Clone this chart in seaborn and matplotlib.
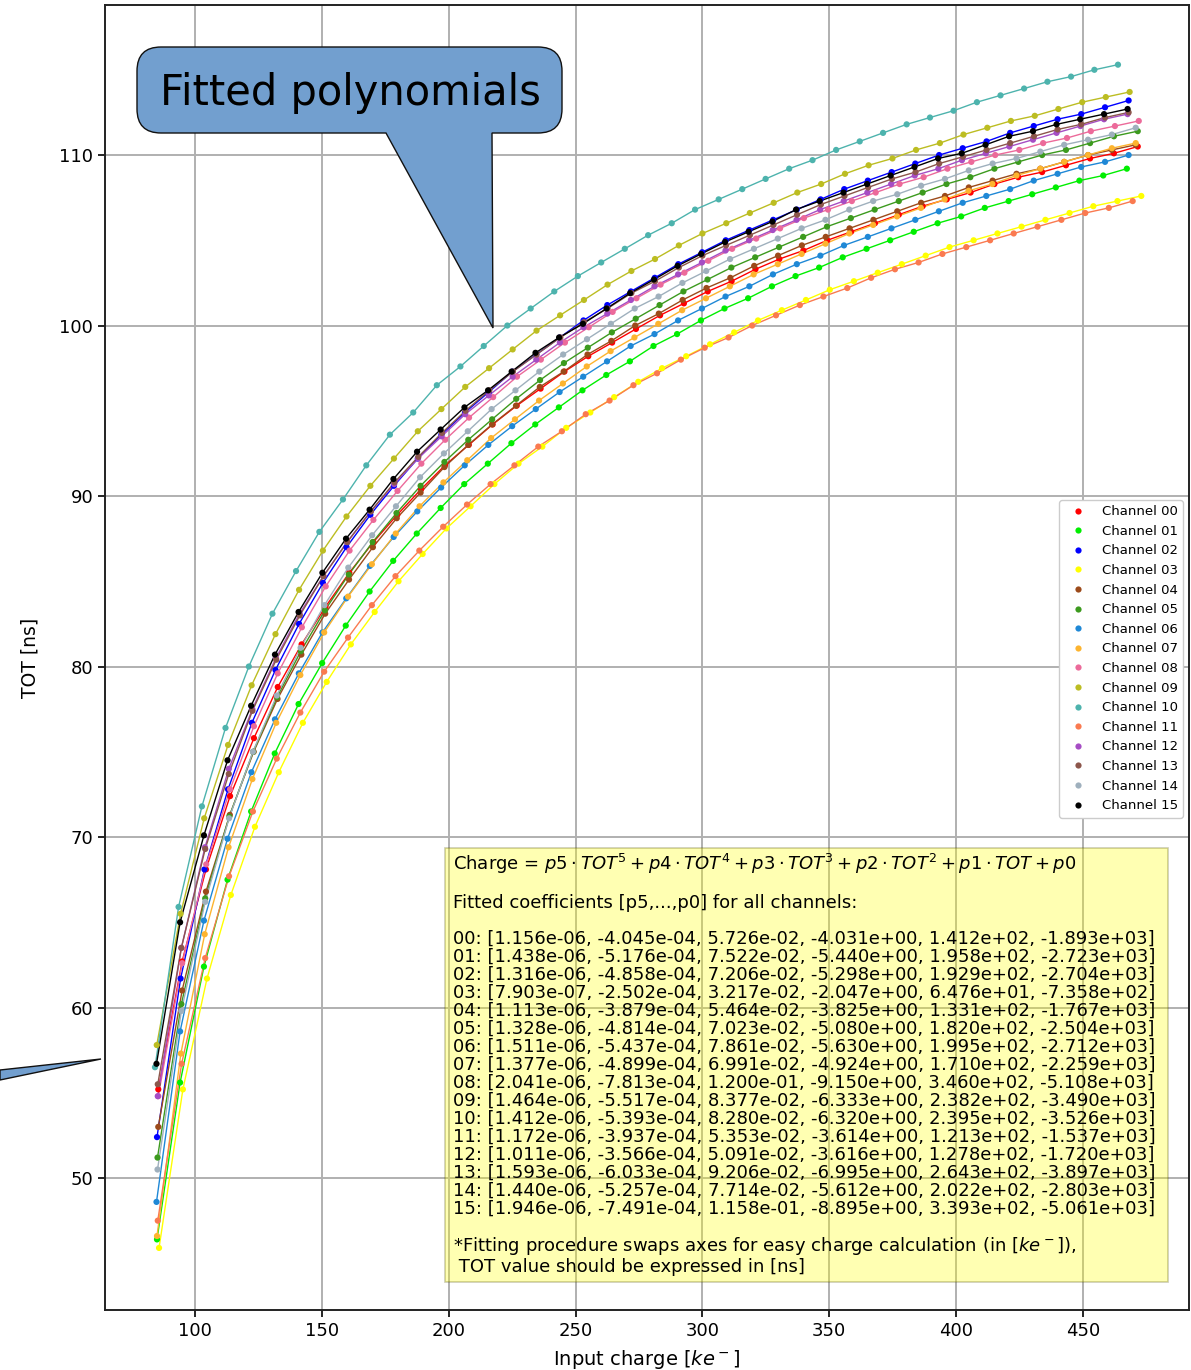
import pandas as pd
import matplotlib
matplotlib.use("Agg")
import matplotlib.pyplot as plt
import seaborn as sns
from matplotlib.path import Path
from matplotlib.patches import PathPatch, Polygon, Rectangle
from matplotlib.transforms import IdentityTransform

# Injected charge [ke-] and measured TOT [ns] per channel
charge_ch00 = [85.5, 94.9, 104.3, 113.8, 123.2, 132.6, 142.0, 151.4, 160.8, 170.3, 179.7, 189.1, 198.5, 207.9, 217.3, 226.8, 236.2, 245.6, 255.0, 264.4, 273.8,
               283.3, 292.7, 302.1, 311.5, 320.9, 330.3, 339.8, 349.2, 358.6, 368.0, 377.4, 386.8, 396.3, 405.7, 415.1, 424.5, 433.9, 443.3, 452.8, 462.2, 471.6]
tot_ch00 = [55.2, 62.7, 68.1, 72.4, 75.8, 78.8, 81.3, 83.5, 85.5, 87.3, 88.9, 90.4, 91.8, 93.0, 94.2, 95.3, 96.3, 97.3, 98.2, 99.0, 99.8,
            100.6, 101.3, 102.0, 102.6, 103.3, 103.9, 104.4, 105.0, 105.5, 106.0, 106.5, 107.0, 107.4, 107.8, 108.3, 108.7, 109.0, 109.4, 109.8, 110.1, 110.5]

charge_ch01 = [85.0, 94.1, 103.5, 112.8, 122.1, 131.4, 140.8, 150.1, 159.4, 168.8, 178.1, 187.4, 196.8, 206.1, 215.4, 224.7, 234.1, 243.4, 252.7, 262.1, 271.4,
               280.7, 290.0, 299.4, 308.7, 318.0, 327.4, 336.7, 346.0, 355.3, 364.7, 374.0, 383.3, 392.7, 402.0, 411.3, 420.7, 430.0, 439.3, 448.6, 458.0, 467.3]
tot_ch01 = [46.4, 55.6, 62.4, 67.5, 71.5, 74.9, 77.8, 80.2, 82.4, 84.4, 86.2, 87.8, 89.3, 90.7, 91.9, 93.1, 94.2, 95.2, 96.2, 97.1, 97.9,
            98.8, 99.5, 100.3, 101.0, 101.6, 102.3, 102.9, 103.4, 104.0, 104.5, 105.0, 105.5, 106.0, 106.4, 106.9, 107.3, 107.7, 108.1, 108.5, 108.8, 109.2]

charge_ch02 = [85.0, 94.3, 103.7, 113.0, 122.4, 131.7, 141.0, 150.4, 159.7, 169.1, 178.4, 187.8, 197.1, 206.4, 215.8, 225.1, 234.5, 243.8, 253.1, 262.5, 271.8,
               281.2, 290.5, 299.9, 309.2, 318.5, 327.9, 337.2, 346.6, 355.9, 365.2, 374.6, 383.9, 393.3, 402.6, 412.0, 421.3, 430.6, 440.0, 449.3, 458.7, 468.0]
tot_ch02 = [52.4, 61.7, 68.1, 72.8, 76.7, 79.8, 82.5, 84.9, 87.0, 88.9, 90.6, 92.2, 93.6, 94.9, 96.1, 97.3, 98.3, 99.3, 100.3, 101.2, 102.0,
            102.8, 103.6, 104.3, 105.0, 105.6, 106.2, 106.8, 107.4, 108.0, 108.5, 109.0, 109.5, 110.0, 110.4, 110.8, 111.3, 111.7, 112.1, 112.4, 112.8, 113.2]

charge_ch03 = [85.8, 95.2, 104.7, 114.1, 123.6, 133.0, 142.5, 151.9, 161.4, 170.8, 180.2, 189.7, 199.1, 208.6, 218.0, 227.5, 236.9, 246.3, 255.8, 265.2, 274.7,
               284.1, 293.6, 303.0, 312.5, 321.9, 331.3, 340.8, 350.2, 359.7, 369.1, 378.6, 388.0, 397.4, 406.9, 416.3, 425.8, 435.2, 444.7, 454.1, 463.6, 473.0]
tot_ch03 = [45.9, 55.2, 61.7, 66.6, 70.6, 73.8, 76.7, 79.1, 81.3, 83.2, 85.0, 86.6, 88.1, 89.4, 90.7, 91.9, 92.9, 94.0, 94.9, 95.8, 96.7,
            97.5, 98.2, 98.9, 99.6, 100.3, 100.9, 101.5, 102.1, 102.6, 103.1, 103.6, 104.1, 104.6, 105.0, 105.4, 105.8, 106.2, 106.6, 107.0, 107.3, 107.6]

charge_ch04 = [85.5, 94.9, 104.3, 113.7, 123.1, 132.5, 141.9, 151.3, 160.7, 170.1, 179.5, 188.9, 198.3, 207.7, 217.1, 226.5, 235.9, 245.3, 254.7, 264.1, 273.5,
               282.8, 292.2, 301.6, 311.0, 320.4, 329.8, 339.2, 348.6, 358.0, 367.4, 376.8, 386.2, 395.6, 405.0, 414.4, 423.8, 433.2, 442.6, 452.0, 461.4, 470.8]
tot_ch04 = [53.0, 61.0, 66.8, 71.3, 75.0, 78.1, 80.7, 83.1, 85.1, 87.0, 88.7, 90.2, 91.7, 93.0, 94.2, 95.3, 96.4, 97.3, 98.3, 99.1, 100.0,
            100.7, 101.5, 102.2, 102.8, 103.5, 104.1, 104.7, 105.2, 105.7, 106.2, 106.7, 107.2, 107.6, 108.1, 108.5, 108.9, 109.2, 109.6, 110.0, 110.3, 110.6]

charge_ch05 = [85.2, 94.6, 104.0, 113.5, 122.9, 132.3, 141.7, 151.2, 160.6, 170.0, 179.4, 188.9, 198.3, 207.7, 217.1, 226.6, 236.0, 245.4, 254.8, 264.3, 273.7,
               283.1, 292.5, 302.0, 311.4, 320.8, 330.2, 339.7, 349.1, 358.5, 367.9, 377.4, 386.8, 396.2, 405.6, 415.1, 424.5, 433.9, 443.3, 452.8, 462.2, 471.6]
tot_ch05 = [51.2, 60.2, 66.4, 71.2, 75.0, 78.2, 80.9, 83.3, 85.4, 87.3, 89.0, 90.6, 92.0, 93.3, 94.5, 95.7, 96.8, 97.8, 98.7, 99.6, 100.4,
            101.2, 102.0, 102.7, 103.4, 104.0, 104.6, 105.2, 105.8, 106.3, 106.8, 107.3, 107.8, 108.3, 108.7, 109.2, 109.6, 110.0, 110.3, 110.7, 111.1, 111.4]

charge_ch06 = [84.8, 94.1, 103.5, 112.8, 122.2, 131.5, 140.9, 150.2, 159.6, 168.9, 178.3, 187.6, 197.0, 206.3, 215.6, 225.0, 234.3, 243.7, 253.0, 262.4, 271.7,
               281.1, 290.4, 299.8, 309.1, 318.5, 327.8, 337.2, 346.5, 355.8, 365.2, 374.5, 383.9, 393.2, 402.6, 411.9, 421.3, 430.6, 440.0, 449.3, 458.7, 468.0]
tot_ch06 = [48.6, 58.6, 65.1, 69.9, 73.8, 76.9, 79.6, 82.0, 84.0, 85.9, 87.6, 89.1, 90.5, 91.8, 93.0, 94.1, 95.1, 96.1, 97.0, 97.9, 98.8,
            99.5, 100.3, 101.0, 101.7, 102.3, 103.0, 103.6, 104.1, 104.7, 105.2, 105.7, 106.2, 106.7, 107.2, 107.6, 108.0, 108.5, 108.9, 109.3, 109.6, 110.0]

charge_ch07 = [85.0, 94.4, 103.8, 113.2, 122.6, 132.0, 141.5, 150.9, 160.3, 169.7, 179.1, 188.5, 197.9, 207.3, 216.7, 226.1, 235.6, 245.0, 254.4, 263.8, 273.2,
               282.6, 292.0, 301.4, 310.8, 320.2, 329.7, 339.1, 348.5, 357.9, 367.3, 376.7, 386.1, 395.5, 404.9, 414.3, 423.8, 433.2, 442.6, 452.0, 461.4, 470.8]
tot_ch07 = [46.6, 57.3, 64.3, 69.4, 73.4, 76.7, 79.5, 82.0, 84.1, 86.0, 87.8, 89.4, 90.8, 92.1, 93.4, 94.5, 95.6, 96.6, 97.6, 98.5, 99.3,
            100.1, 100.9, 101.6, 102.3, 103.0, 103.6, 104.2, 104.8, 105.4, 105.9, 106.4, 106.9, 107.4, 107.9, 108.3, 108.8, 109.2, 109.6, 110.0, 110.4, 110.7]

charge_ch08 = [85.5, 94.9, 104.4, 113.8, 123.2, 132.6, 142.1, 151.5, 160.9, 170.3, 179.8, 189.2, 198.6, 208.0, 217.5, 226.9, 236.3, 245.8, 255.2, 264.6, 274.0,
               283.5, 292.9, 302.3, 311.7, 321.2, 330.6, 340.0, 349.5, 358.9, 368.3, 377.7, 387.2, 396.6, 406.0, 415.4, 424.9, 434.3, 443.7, 453.1, 462.6, 472.0]
tot_ch08 = [54.8, 62.6, 68.4, 72.8, 76.5, 79.6, 82.3, 84.7, 86.8, 88.6, 90.3, 91.9, 93.3, 94.6, 95.8, 97.0, 98.0, 99.0, 99.9, 100.8, 101.6,
            102.4, 103.1, 103.8, 104.5, 105.1, 105.7, 106.3, 106.8, 107.3, 107.8, 108.3, 108.7, 109.2, 109.6, 110.0, 110.3, 110.7, 111.0, 111.4, 111.7, 112.0]

charge_ch09 = [84.9, 94.3, 103.6, 113.0, 122.3, 131.7, 141.0, 150.4, 159.7, 169.1, 178.4, 187.8, 197.1, 206.5, 215.9, 225.2, 234.6, 243.9, 253.3, 262.6, 272.0,
               281.3, 290.7, 300.0, 309.4, 318.7, 328.1, 337.4, 346.8, 356.2, 365.5, 374.9, 384.2, 393.6, 402.9, 412.3, 421.6, 431.0, 440.3, 449.7, 459.0, 468.4]
tot_ch09 = [57.8, 65.5, 71.1, 75.4, 78.9, 81.9, 84.5, 86.8, 88.8, 90.6, 92.2, 93.8, 95.1, 96.4, 97.5, 98.6, 99.7, 100.6, 101.5, 102.4, 103.2,
            103.9, 104.7, 105.4, 106.0, 106.6, 107.2, 107.8, 108.3, 108.9, 109.4, 109.8, 110.3, 110.7, 111.2, 111.6, 112.0, 112.3, 112.7, 113.1, 113.4, 113.7]

charge_ch10 = [84.2, 93.5, 102.7, 112.0, 121.2, 130.5, 139.8, 149.0, 158.3, 167.5, 176.8, 186.0, 195.3, 204.6, 213.8, 223.1, 232.3, 241.6, 250.9, 260.1, 269.4,
               278.6, 287.9, 297.1, 306.4, 315.7, 324.9, 334.2, 343.4, 352.7, 362.0, 371.2, 380.5, 389.7, 399.0, 408.2, 417.5, 426.8, 436.0, 445.3, 454.5, 463.8]
tot_ch10 = [56.5, 65.9, 71.8, 76.4, 80.0, 83.1, 85.6, 87.9, 89.8, 91.8, 93.6, 94.9, 96.5, 97.6, 98.8, 100.0, 101.0, 102.0, 102.9, 103.7, 104.5,
            105.3, 106.0, 106.8, 107.4, 108.0, 108.6, 109.2, 109.7, 110.3, 110.8, 111.3, 111.8, 112.2, 112.6, 113.1, 113.5, 113.9, 114.3, 114.6, 115.0, 115.3]

charge_ch11 = [85.3, 94.7, 104.0, 113.4, 122.8, 132.2, 141.5, 150.9, 160.3, 169.7, 179.0, 188.4, 197.8, 207.2, 216.5, 225.9, 235.3, 244.6, 254.0, 263.4, 272.8,
               282.1, 291.5, 300.9, 310.3, 319.6, 329.0, 338.4, 347.7, 357.1, 366.5, 375.9, 385.2, 394.6, 404.0, 413.4, 422.7, 432.1, 441.5, 450.9, 460.2, 469.6]
tot_ch11 = [47.5, 56.7, 62.9, 67.7, 71.5, 74.6, 77.3, 79.7, 81.7, 83.6, 85.3, 86.8, 88.2, 89.5, 90.7, 91.8, 92.9, 93.8, 94.8, 95.6, 96.5,
            97.2, 98.0, 98.7, 99.3, 100.0, 100.6, 101.2, 101.7, 102.2, 102.8, 103.3, 103.7, 104.2, 104.6, 105.0, 105.4, 105.8, 106.2, 106.6, 106.9, 107.3]

charge_ch12 = [85.3, 94.6, 103.9, 113.3, 122.6, 131.9, 141.2, 150.6, 159.9, 169.2, 178.5, 187.9, 197.2, 206.5, 215.8, 225.2, 234.5, 243.8, 253.1, 262.5, 271.8,
               281.1, 290.4, 299.8, 309.1, 318.4, 327.7, 337.1, 346.4, 355.7, 365.0, 374.4, 383.7, 393.0, 402.3, 411.7, 421.0, 430.3, 439.6, 449.0, 458.3, 467.6]
tot_ch12 = [54.8, 63.5, 69.4, 74.0, 77.5, 80.5, 83.1, 85.3, 87.3, 89.1, 90.7, 92.2, 93.5, 94.8, 95.9, 97.0, 98.0, 99.0, 99.9, 100.7, 101.5,
            102.3, 103.0, 103.7, 104.4, 105.0, 105.6, 106.2, 106.8, 107.3, 107.8, 108.3, 108.8, 109.2, 109.7, 110.1, 110.5, 110.9, 111.3, 111.7, 112.1, 112.4]

charge_ch13 = [85.3, 94.6, 104.0, 113.3, 122.6, 132.0, 141.3, 150.6, 160.0, 169.3, 178.6, 188.0, 197.3, 206.6, 216.0, 225.3, 234.6, 244.0, 253.3, 262.6, 272.0,
               281.3, 290.7, 300.0, 309.3, 318.7, 328.0, 337.3, 346.7, 356.0, 365.3, 374.7, 384.0, 393.3, 402.7, 412.0, 421.3, 430.7, 440.0, 449.3, 458.7, 468.0]
tot_ch13 = [55.5, 63.5, 69.3, 73.7, 77.4, 80.4, 83.0, 85.3, 87.3, 89.1, 90.8, 92.3, 93.7, 95.0, 96.2, 97.3, 98.3, 99.3, 100.2, 101.0, 101.9,
            102.6, 103.4, 104.1, 104.7, 105.3, 105.9, 106.5, 107.1, 107.6, 108.1, 108.6, 109.0, 109.5, 109.9, 110.3, 110.7, 111.1, 111.5, 111.8, 112.2, 112.5]

charge_ch14 = [85.2, 94.6, 104.0, 113.4, 122.8, 132.2, 141.6, 151.0, 160.4, 169.8, 179.2, 188.7, 198.1, 207.5, 216.9, 226.3, 235.7, 245.1, 254.5, 263.9, 273.3,
               282.7, 292.1, 301.5, 310.9, 320.3, 329.7, 339.1, 348.5, 357.9, 367.3, 376.8, 386.2, 395.6, 405.0, 414.4, 423.8, 433.2, 442.6, 452.0, 461.4, 470.8]
tot_ch14 = [50.5, 59.8, 66.2, 71.1, 75.0, 78.3, 81.1, 83.6, 85.8, 87.7, 89.4, 91.1, 92.5, 93.8, 95.1, 96.2, 97.3, 98.3, 99.2, 100.1, 101.0,
            101.7, 102.5, 103.2, 103.9, 104.5, 105.1, 105.7, 106.2, 106.8, 107.3, 107.7, 108.2, 108.6, 109.1, 109.5, 109.8, 110.2, 110.6, 110.9, 111.2, 111.6]

charge_ch15 = [84.8, 94.1, 103.5, 112.8, 122.1, 131.5, 140.8, 150.2, 159.5, 168.8, 178.2, 187.5, 196.8, 206.2, 215.5, 224.8, 234.2, 243.5, 252.9, 262.2, 271.5,
               280.9, 290.2, 299.5, 308.9, 318.2, 327.6, 336.9, 346.2, 355.6, 364.9, 374.2, 383.6, 392.9, 402.2, 411.6, 420.9, 430.3, 439.6, 448.9, 458.3, 467.6]
tot_ch15 = [56.7, 65.0, 70.1, 74.5, 77.7, 80.7, 83.2, 85.5, 87.5, 89.2, 91.0, 92.6, 93.9, 95.2, 96.2, 97.3, 98.4, 99.3, 100.1, 101.0, 101.9,
            102.7, 103.5, 104.2, 104.9, 105.5, 106.1, 106.8, 107.3, 107.8, 108.3, 108.8, 109.3, 109.8, 110.1, 110.6, 111.1, 111.4, 111.8, 112.1, 112.4, 112.7]

channel_ids = ["00", "01", "02", "03", "04", "05", "06", "07", "08", "09", "10", "11", "12", "13", "14", "15"]
channel_colors = ["#ff0000", "#00ee00", "#0000ff", "#ffff00", "#9c4a1a", "#3c9a1e", "#1f88d6", "#fdb42f",
                  "#ec6a9a", "#bcbd22", "#4db3ad", "#fa7a50", "#a64dc4", "#8c564b", "#9fb0bd", "#000000"]

# Fitted coefficients [p5, ..., p0] of Charge(TOT), one entry per channel
p5 = [1.156e-06, 1.438e-06, 1.316e-06, 7.903e-07, 1.113e-06, 1.328e-06, 1.511e-06, 1.377e-06,
      2.041e-06, 1.464e-06, 1.412e-06, 1.172e-06, 1.011e-06, 1.593e-06, 1.440e-06, 1.946e-06]
p4 = [-4.045e-04, -5.176e-04, -4.858e-04, -2.502e-04, -3.879e-04, -4.814e-04, -5.437e-04, -4.899e-04,
      -7.813e-04, -5.517e-04, -5.393e-04, -3.937e-04, -3.566e-04, -6.033e-04, -5.257e-04, -7.491e-04]
p3 = [5.726e-02, 7.522e-02, 7.206e-02, 3.217e-02, 5.464e-02, 7.023e-02, 7.861e-02, 6.991e-02,
      1.200e-01, 8.377e-02, 8.280e-02, 5.353e-02, 5.091e-02, 9.206e-02, 7.714e-02, 1.158e-01]
p2 = [-4.031e+00, -5.440e+00, -5.298e+00, -2.047e+00, -3.825e+00, -5.080e+00, -5.630e+00, -4.924e+00,
      -9.150e+00, -6.333e+00, -6.320e+00, -3.614e+00, -3.616e+00, -6.995e+00, -5.612e+00, -8.895e+00]
p1 = [1.412e+02, 1.958e+02, 1.929e+02, 6.476e+01, 1.331e+02, 1.820e+02, 1.995e+02, 1.710e+02,
      3.460e+02, 2.382e+02, 2.395e+02, 1.213e+02, 1.278e+02, 2.643e+02, 2.022e+02, 3.393e+02]
p0 = [-1.893e+03, -2.723e+03, -2.704e+03, -7.358e+02, -1.767e+03, -2.504e+03, -2.712e+03, -2.259e+03,
      -5.108e+03, -3.490e+03, -3.526e+03, -1.537e+03, -1.720e+03, -3.897e+03, -2.803e+03, -5.061e+03]

charges = [charge_ch00, charge_ch01, charge_ch02, charge_ch03, charge_ch04, charge_ch05, charge_ch06, charge_ch07,
           charge_ch08, charge_ch09, charge_ch10, charge_ch11, charge_ch12, charge_ch13, charge_ch14, charge_ch15]
tots = [tot_ch00, tot_ch01, tot_ch02, tot_ch03, tot_ch04, tot_ch05, tot_ch06, tot_ch07,
        tot_ch08, tot_ch09, tot_ch10, tot_ch11, tot_ch12, tot_ch13, tot_ch14, tot_ch15]

df = pd.concat([pd.DataFrame({"charge": q, "tot": t, "channel": "Channel " + ch})
                for ch, q, t in zip(channel_ids, charges, tots)], ignore_index=True)
palette = {"Channel " + ch: c for ch, c in zip(channel_ids, channel_colors)}

sns.set_theme(style="ticks")
plt.rcParams["font.family"] = ["DejaVu Sans"]
plt.rcParams.update({"text.color": "black", "axes.labelcolor": "black",
                     "xtick.color": "black", "ytick.color": "black"})

W, H = 1191, 1370
fig = plt.figure(figsize=(W / 100, H / 100), dpi=100)
ax = fig.add_axes([105 / W, 60 / H, 1084 / W, 1305 / H])

sns.lineplot(data=df, x="charge", y="tot", hue="channel", palette=palette, sort=False,
             estimator=None, lw=1.0, legend=False, ax=ax)
sns.scatterplot(data=df, x="charge", y="tot", hue="channel", palette=palette, s=20,
                linewidth=0, ax=ax, zorder=3)

ax.set_xlim(64.5, 491.8)
ax.set_ylim(42.26, 118.8)
ax.set_xticks(range(100, 451, 50))
ax.set_yticks(range(50, 111, 10))
ax.grid(True, color="#b0b0b0", lw=1.4)
ax.tick_params(labelsize=13, length=5, width=1.2)
for s in ax.spines.values():
    s.set_linewidth(1.4)
    s.set_color("#222222")
ax.set_xlabel("Input charge [$ke^-$]", fontsize=14, labelpad=6)
ax.set_ylabel("TOT [ns]", fontsize=13.5, labelpad=14)

handles, labels = ax.get_legend_handles_labels()
ax.legend(handles, labels, loc="upper right", bbox_to_anchor=(0.9945, 0.6207), borderaxespad=0,
          fontsize=9.5, frameon=True, fancybox=True, framealpha=1)


def px(x, y):
    """Figure fraction from pixel position measured from the top-left corner."""
    return x / W, 1 - y / H


# Coefficient summary box
fig.add_artist(Rectangle(px(445, 1282), 723 / W, 434 / H, transform=fig.transFigure,
                         facecolor="yellow", alpha=0.3, edgecolor="#555500", lw=1.2, zorder=5))


def box_line(y, s):
    fig.text(*px(453, y + 6), s, fontsize=13, va="baseline", ha="left", zorder=6)


box_line(864, r"Charge = $p5 \cdot TOT^5 + p4 \cdot TOT^4 + p3 \cdot TOT^3 + p2 \cdot TOT^2 + p1 \cdot TOT + p0$")
box_line(902, "Fitted coefficients [p5,...,p0] for all channels:")
for i, ch in enumerate(channel_ids):
    vals = [p5[i], p4[i], p3[i], p2[i], p1[i], p0[i]]
    box_line(938 + 18 * i, f"{ch}: [" + ", ".join(f"{v:.3e}" for v in vals) + "]")
box_line(1245, r"*Fitting procedure swaps axes for easy charge calculation (in [$ke^-$]),")
box_line(1266, " TOT value should be expressed in [ns]")


# Speech-bubble callouts
def callout_path(l, t, r, b, rad, tail):
    Y = lambda y: H - y
    verts = [(l + rad, Y(t)), (r - rad, Y(t)), (r, Y(t)), (r, Y(t + rad)),
             (r, Y(b - rad)), (r, Y(b)), (r - rad, Y(b)),
             (tail[0][0], Y(tail[0][1])), (tail[1][0], Y(tail[1][1])), (tail[2][0], Y(tail[2][1])),
             (l + rad, Y(b)), (l, Y(b)), (l, Y(b - rad)),
             (l, Y(t + rad)), (l, Y(t)), (l + rad, Y(t)), (l + rad, Y(t))]
    codes = [Path.MOVETO, Path.LINETO, Path.CURVE3, Path.CURVE3,
             Path.LINETO, Path.CURVE3, Path.CURVE3,
             Path.LINETO, Path.LINETO, Path.LINETO,
             Path.LINETO, Path.CURVE3, Path.CURVE3,
             Path.LINETO, Path.CURVE3, Path.CURVE3, Path.CLOSEPOLY]
    return Path(verts, codes)


fig.add_artist(PathPatch(callout_path(137, 47, 562, 133, 24, [(492, 133), (493, 328), (386, 133)]),
                         transform=IdentityTransform(), facecolor="#729fcf", edgecolor="#111111",
                         lw=1.0, zorder=7))
fig.text(*px(350, 93), "Fitted polynomials", fontsize=30, ha="center", va="center", zorder=8)
fig.add_artist(Polygon([(0, H - 1070), (101, H - 1059), (0, H - 1080)], closed=True,
                       transform=IdentityTransform(), facecolor="#729fcf", edgecolor="#111111",
                       lw=1.0, zorder=7))

fig.savefig("out.png", dpi=100)
